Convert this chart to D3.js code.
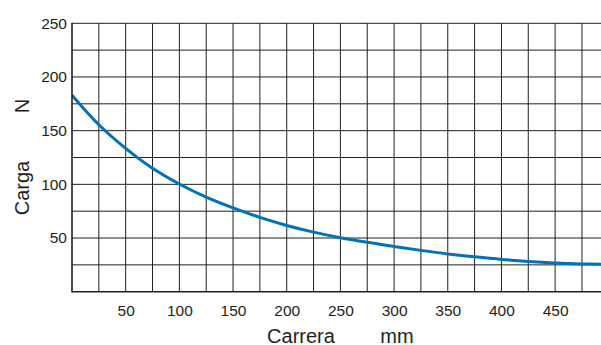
<!DOCTYPE html>
<html>
<head>
<meta charset="utf-8">
<script src="https://cdn.jsdelivr.net/npm/d3@7"></script>
<style>
  body { margin: 0; background: #fff; }
  svg { display: block; font-family: "Liberation Sans", Arial, sans-serif; }
  text { fill: #231f20; }
</style>
</head>
<body>
<svg id="chart" width="601" height="345"></svg>
<script>
// values
var carrera = [0, 25, 50, 75, 100, 125, 150, 175, 200, 225, 250, 275, 300, 325, 350, 375, 400, 425, 450, 475, 495];
var carga = [183, 155.5, 133.5, 115, 100.3, 88, 78, 69.2, 61.7, 55.5, 50.3, 46, 42.2, 38.5, 35.2, 32.5, 30.1, 28.2, 26.8, 25.9, 25.5];
var xTicks = [50, 100, 150, 200, 250, 300, 350, 400, 450];
var yTicks = [50, 100, 150, 200, 250];
var gridStep = 25;

var svg = d3.select("#chart");
var W = 601, plotLeft = 72, plotTop = 23.3, plotBottom = 291.7;
var cell = (plotBottom - plotTop) / 10;

var x = d3.scaleLinear().domain([0, 500]).range([plotLeft, plotLeft + 20 * cell]);
var y = d3.scaleLinear().domain([0, 250]).range([plotBottom, plotTop]);

var lineColor = "#231f20";

svg.append("clipPath").attr("id", "clip")
    .append("rect").attr("x", plotLeft).attr("y", 0).attr("width", W - plotLeft).attr("height", plotBottom);

var grid = svg.append("g").attr("clip-path", "url(#clip)");

// vertical grid
grid.selectAll("line.v").data(d3.range(gridStep, 500, gridStep)).enter()
    .append("line").attr("class", "v")
    .attr("x1", function(d) { return x(d); }).attr("x2", function(d) { return x(d); })
    .attr("y1", plotTop).attr("y2", plotBottom)
    .attr("stroke", lineColor).attr("stroke-width", 1);

// horizontal grid
grid.selectAll("line.h").data(d3.range(gridStep, 251, gridStep)).enter()
    .append("line").attr("class", "h")
    .attr("x1", plotLeft).attr("x2", W)
    .attr("y1", function(d) { return y(d); }).attr("y2", function(d) { return y(d); })
    .attr("stroke", lineColor).attr("stroke-width", 1);

// axis frame
svg.append("line").attr("x1", plotLeft).attr("x2", plotLeft).attr("y1", plotTop - 0.5).attr("y2", plotBottom + 0.8)
    .attr("stroke", lineColor).attr("stroke-width", 1.6);
svg.append("line").attr("x1", plotLeft).attr("x2", W).attr("y1", plotBottom).attr("y2", plotBottom)
    .attr("stroke", lineColor).attr("stroke-width", 1.6);

// curve
var line = d3.line()
    .x(function(d, i) { return x(carrera[i]); })
    .y(function(d) { return y(d); })
    .curve(d3.curveCatmullRom);

grid.append("path").datum(carga)
    .attr("d", line)
    .attr("fill", "none")
    .attr("stroke", "#0072bc")
    .attr("stroke-width", 3);

// tick labels
var xAxis = svg.append("g").attr("transform", "translate(0," + plotBottom + ")")
    .call(d3.axisBottom(x).tickValues(xTicks).tickSize(0).tickPadding(13));
var yAxis = svg.append("g").attr("transform", "translate(" + plotLeft + ",0)")
    .call(d3.axisLeft(y).tickValues(yTicks).tickSize(0).tickPadding(5));
[xAxis, yAxis].forEach(function(a) {
    a.select(".domain").remove();
    a.selectAll("text").attr("fill", lineColor).style("font-size", "15.5px")
        .style("font-family", "\"Liberation Sans\", Arial, sans-serif");
});

// axis titles
svg.append("text").attr("x", 301).attr("y", 342.5).attr("text-anchor", "middle")
    .style("font-size", "20px").text("Carrera");
svg.append("text").attr("x", 397).attr("y", 342.5).attr("text-anchor", "middle")
    .style("font-size", "20px").text("mm");
svg.append("text").attr("transform", "translate(29,188) rotate(-90)").attr("text-anchor", "middle")
    .style("font-size", "20px").text("Carga");
svg.append("text").attr("transform", "translate(29,106) rotate(-90)").attr("text-anchor", "middle")
    .style("font-size", "20px").text("N");
</script>
</body>
</html>
